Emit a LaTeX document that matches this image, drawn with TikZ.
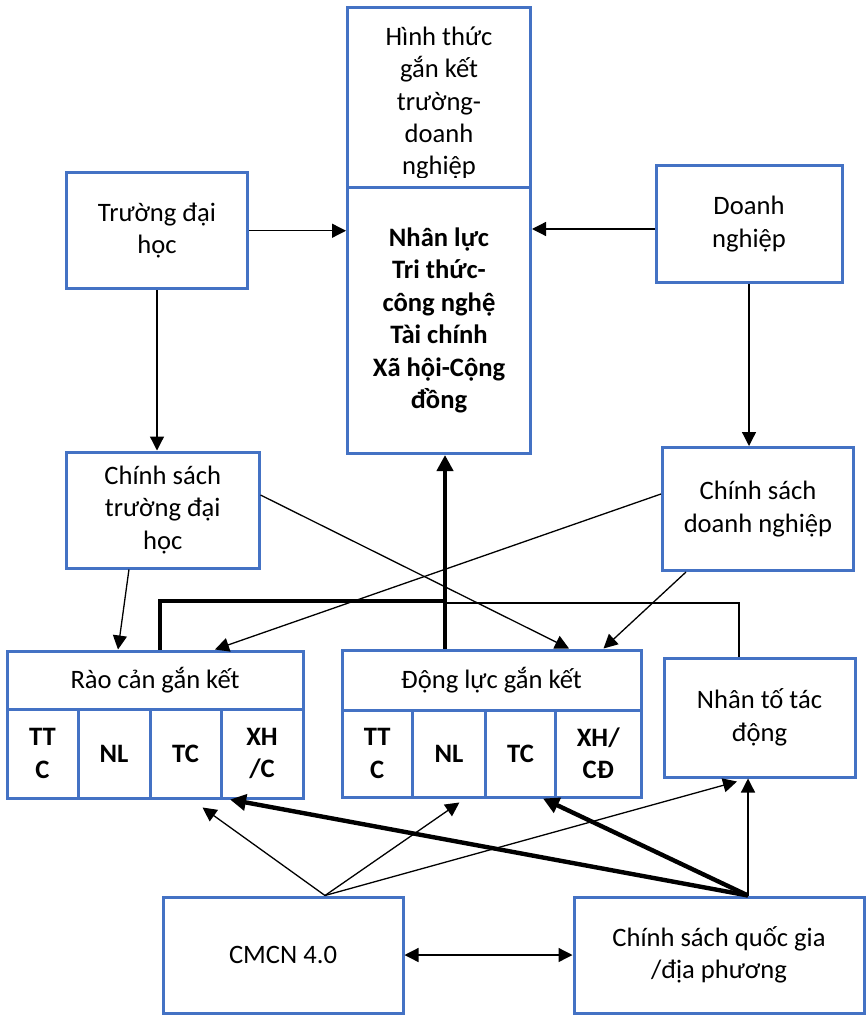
\documentclass[tikz,border=0pt]{standalone}
\usepackage{fontspec}
\setmainfont{Carlito}
\usetikzlibrary{arrows.meta}
\definecolor{boxblue}{RGB}{68,114,196}
\tikzset{
  box/.style={draw=boxblue, line width=1.5pt, align=center, inner sep=0pt, font=\fontsize{13.3}{16.2}\selectfont},
  cell/.style={box, font=\fontsize{13.3}{16.2}\selectfont\bfseries},
  link/.style={line width=0.65pt, -{Triangle[length=7pt,width=7pt]}},
  twoway/.style={line width=0.65pt, {Triangle[length=7pt,width=7pt]}-{Triangle[length=7pt,width=7pt]}},
  heavy/.style={line width=2.2pt, -{Triangle[length=8pt,width=8pt]}},
}
\begin{document}
\begin{tikzpicture}[x=0.5pt,y=-0.5pt]
	\useasboundingbox (0,0) rectangle (866,1015);
	% top column
	\node[box, minimum width=91.5pt, minimum height=90pt] (hinhthuc) at (439,97.5) {};
	\begin{scope}
		\clip (348,8) rectangle (530,178);
		\node[align=center, font=\fontsize{13.3}{16.2}\selectfont] (hinhthuctext) at (439,103) {Hình thức\\gắn kết\\trường-\\doanh\\nghiệp};
	\end{scope}
	\node[cell, minimum width=91.5pt, minimum height=133pt] (nguonluc) at (439,320.5) {Nhân lực\\Tri thức-\\công nghệ\\Tài chính\\Xã hội-Cộng\\đồng};
	% sides
	\node[box, minimum width=90.5pt, minimum height=58.25pt] (truong) at (157,230.75) {Trường đại\\học};
	\node[box, minimum width=93pt, minimum height=58.5pt] (doanhnghiep) at (749,224) {Doanh\\nghiệp};
	\node[box, minimum width=96.25pt, minimum height=58pt] (cstruong) at (162.75,510) {Chính sách\\trường đại\\học};
	\node[box, minimum width=95.5pt, minimum height=61.5pt] (csdn) at (758,509) {Chính sách\\doanh nghiệp};
	% barriers
	\node[box, minimum width=148pt, minimum height=29pt] (rao) at (155,680) {Rào cản gắn kết};
	\node[cell, minimum width=35.5pt, minimum height=44.5pt] (rao1) at (42.5,753.5) {TT\\C};
	\node[cell, minimum width=36pt, minimum height=44.5pt] (rao2) at (114,753.5) {NL};
	\node[cell, minimum width=35.5pt, minimum height=44.5pt] (rao3) at (185.5,753.5) {TC};
	\node[cell, minimum width=41pt, minimum height=44.5pt] (rao4) at (262,753.5) {XH\\/C};
	% drivers
	\node[box, minimum width=149.5pt, minimum height=30pt] (dongluc) at (491.5,680) {Động lực gắn kết};
	\node[cell, minimum width=35.25pt, minimum height=43.5pt] (dl1) at (377.25,753.5) {TT\\C};
	\node[cell, minimum width=36.5pt, minimum height=43.5pt] (dl2) at (449,753.5) {NL};
	\node[cell, minimum width=35pt, minimum height=43.5pt] (dl3) at (520.5,753.5) {TC};
	\node[cell, minimum width=42.75pt, minimum height=43.5pt] (dl4) at (598.25,753.5) {XH/\\CĐ};
	\node[box, minimum width=95.5pt, minimum height=59.5pt] (nhanto) at (759.5,717.5) {Nhân tố tác\\động};
	% bottom
	\node[box, minimum width=120pt, minimum height=58pt] (cmcn) at (283,955) {CMCN 4.0};
	\node[box, minimum width=145pt, minimum height=58pt] (quocgia) at (719,955) {Chính sách quốc gia\\/địa phương};
	\coordinate (hub) at (445,601);

	\draw[link] (truong.east) -- (truong.east -| nguonluc.west);
	\draw[link] ([yshift=-2.5pt]doanhnghiep.west) -- ([yshift=-2.5pt]doanhnghiep.west -| nguonluc.east);
	\draw[link] (truong.south) -- (truong.south |- cstruong.north);
	\draw[link] (doanhnghiep.south) -- (doanhnghiep.south |- csdn.north);
	\draw[link] ([xshift=-16.9pt]cstruong.south) -- ([xshift=-18.5pt]rao.north);
	\draw[link] ([yshift=7.5pt]cstruong.east) -- ([xshift=38.75pt]dongluc.north);
	\draw[link] ([yshift=7.5pt]csdn.west) -- ([xshift=30pt]rao.north);
	\draw[link] ([xshift=-36pt]csdn.south) -- ([xshift=56pt]dongluc.north);

	\draw[line width=2.2pt] ([xshift=2.5pt]rao.north) |- (hub);
	\draw[heavy] ([xshift=-23.25pt]dongluc.north) -- (hub) -- (hub |- nguonluc.south);
	\draw[line width=0.65pt] ([yshift=-1pt]hub) -| ([xshift=-10.25pt]nhanto.north);

	\draw[link] ([xshift=21pt]cmcn.north) -- ([xshift=8.5pt,yshift=-4pt]rao3.south);
	\draw[link] ([xshift=21pt]cmcn.north) -- ([xshift=5.2pt,yshift=-2pt]dl2.south);
	\draw[link] ([xshift=21pt]cmcn.north) -- ([xshift=-11.25pt,yshift=-1.5pt]nhanto.south);
	\draw[heavy] ([xshift=14.5pt]quocgia.north) -- ([xshift=-16pt]rao4.south);
	\draw[heavy] ([xshift=14.5pt]quocgia.north) -- ([xshift=11.25pt]dl3.south);
	\draw[link] ([xshift=14.5pt]quocgia.north) -- ([xshift=14.5pt]quocgia.north |- nhanto.south);
	\draw[twoway] (cmcn.east) -- (quocgia.west);
\end{tikzpicture}
\end{document}
